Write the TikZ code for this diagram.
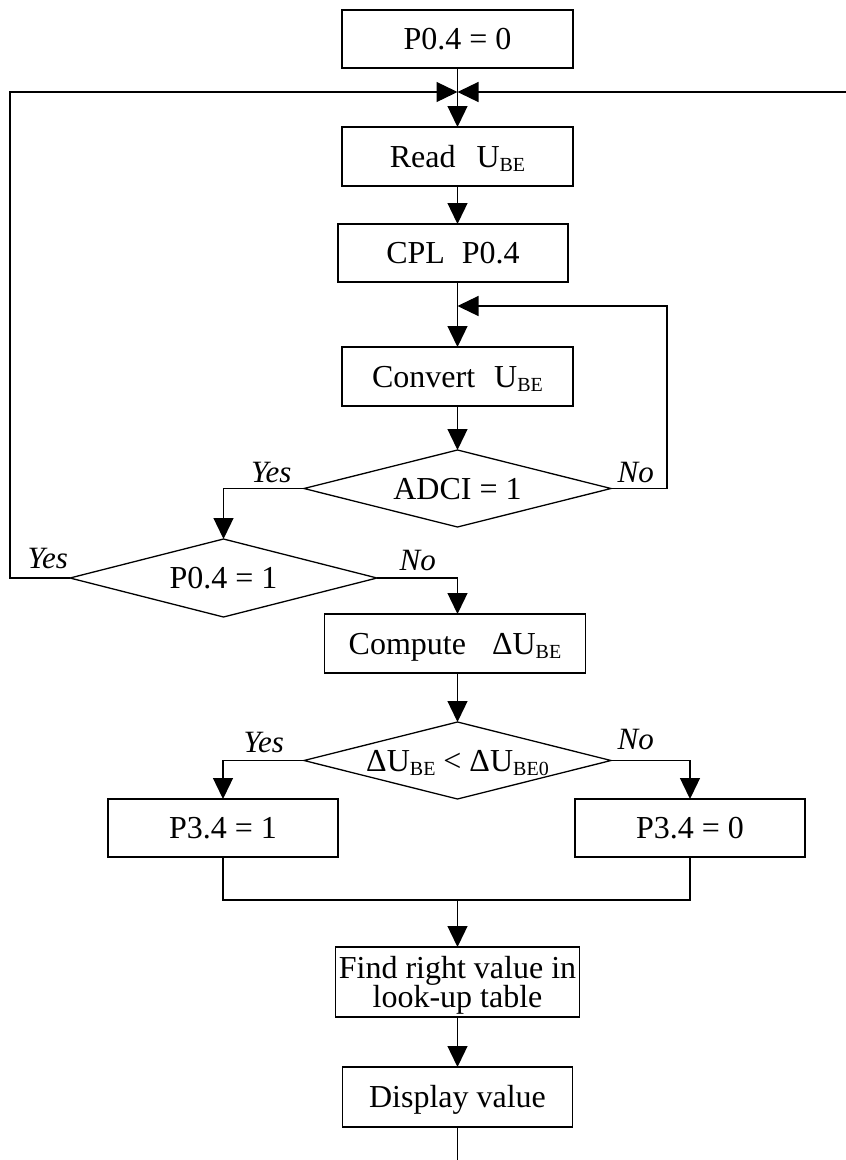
\documentclass[tikz,border=0pt]{standalone}
\usepackage{fontspec}
\setmainfont{Liberation Serif}
\usetikzlibrary{arrows.meta,shapes.geometric}
\newcommand\sbe[1]{\raisebox{-4.5pt}{\fontsize{20}{20}\selectfont #1}}
\newcommand\ctext[1]{\makebox[0pt]{\raisebox{-10.5pt}{#1}}}
\begin{document}
\begin{tikzpicture}[x=1pt,y=-1pt,line width=1.3pt,
  font=\fontsize{32}{28}\selectfont,
  box/.style={draw,rectangle,inner sep=0pt,outer sep=0pt,text height=0pt,text depth=0pt,minimum width=231pt,minimum height=59pt},
  dec/.style={draw,diamond,inner sep=0pt,outer sep=0pt,text height=0pt,text depth=0pt,minimum width=307pt,minimum height=77pt},
  arr/.style={-{Triangle[length=21pt,width=20pt]}},
  lbl/.style={font=\fontsize{31}{31}\selectfont\itshape,inner sep=0pt}]
\useasboundingbox (0,0) rectangle (846,1160);
% nodes
\node[box,minimum height=58pt] (p0) at (457.5,39) {\ctext{P0.4 = 0}};
\node[box] (read) at (457.5,156.5) {\ctext{Read\hspace{21pt}U\sbe{BE}}};
\node[box,minimum width=230pt,minimum height=58pt] (cpl) at (453,253) {\ctext{CPL\hspace{17pt}P0.4}};
\node[box] (convert) at (457.5,376.5) {\ctext{Convert\hspace{19pt}U\sbe{BE}}};
\node[dec] (adci) at (457.5,488.5) {\ctext{ADCI = 1}};
\node[dec,minimum height=78pt] (p1) at (223.5,578) {\ctext{P0.4 = 1}};
\node[box,minimum width=261pt] (compute) at (455,643.5) {\ctext{Compute\hspace{26pt}ΔU\sbe{BE}}};
\node[dec] (cmp) at (457.5,760.5) {\ctext{ΔU\sbe{BE} < ΔU\sbe{BE0}}};
\node[box,minimum width=230pt,minimum height=58pt] (p31) at (223,828) {\ctext{P3.4 = 1}};
\node[box,minimum width=230pt,minimum height=58pt] (p30) at (690,828) {\ctext{P3.4 = 0}};
\node[box,minimum width=244pt,minimum height=70pt] (find) at (457.5,982)
  {\makebox[0pt]{\raisebox{4pt}{Find right value in}}\makebox[0pt]{\raisebox{-25pt}{look-up table}}};
\node[box,minimum width=230pt,minimum height=60pt] (display) at (457.5,1097) {\ctext{Display value}};
% labels
\node[lbl,anchor=base east] (yes1) at (292,482) {Yes};
\node[lbl,anchor=base west] (no1) at (617,482) {No};
\node[lbl,anchor=base west] (yes2) at (27,568) {Yes};
\node[lbl,anchor=base west] (no2) at (399,570) {No};
\node[lbl,anchor=base west] (yes3) at (243,752) {Yes};
\node[lbl,anchor=base west] (no3) at (617,749) {No};
% coordinates
\coordinate (j1) at (457.5,92);
\coordinate (lc) at (10,92);
\coordinate (rc) at (846,92);
\coordinate (j2) at (457.5,306);
\coordinate (rc2) at (667,306);
\coordinate (m) at (457.5,900);
\coordinate (bot) at (457.5,1160);
% connectors
\draw[arr] (p0) -- (read);
\draw[arr] (p1.west) -| (lc) -- (j1);
\draw[arr] (rc) -- (j1);
\draw[arr] (read.south) -- (read.south |- cpl.north);
\draw[arr] (cpl.south -| j2) -- (convert.north);
\draw[arr] (adci.east) -| (rc2) -- (j2);
\draw[arr] (convert) -- (adci);
\draw[arr] (adci.west) -| (p1.north);
\draw[arr] (p1.east) -| (j2 |- compute.north);
\draw[arr] (compute.south -| j2) -- (cmp.north);
\draw[arr] (cmp.west) -| (p31.north);
\draw[arr] (cmp.east) -| (p30.north);
\draw (p31.south) |- (m) -| (p30.south);
\draw[arr] (m) -- (find);
\draw[arr] (find) -- (display);
\draw (display) -- (bot);
\end{tikzpicture}
\end{document}
